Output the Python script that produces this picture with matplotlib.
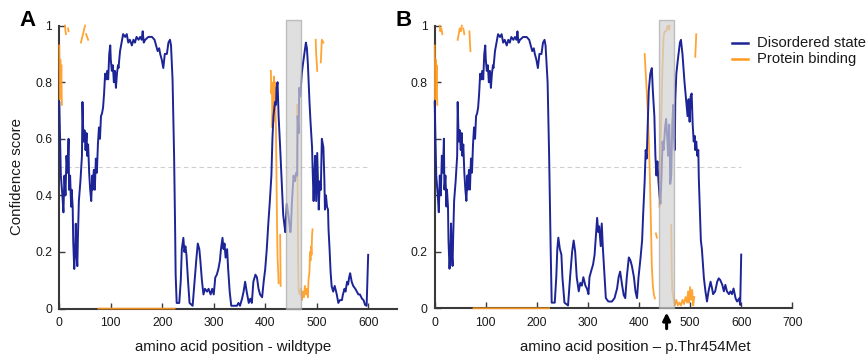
import numpy as np
import matplotlib
matplotlib.use("Agg")
import matplotlib.pyplot as plt
from matplotlib.patches import Rectangle
from matplotlib.lines import Line2D

plt.rcParams['font.family'] = ['Liberation Sans', 'DejaVu Sans']

nan = np.nan

# ---- Disordered state: shared N-terminal part (identical in both panels) ----
head_pos = [0, 3, 6, 8, 10, 12, 14, 16, 18, 19,
            21, 23, 24, 26, 27, 29, 31, 32, 33, 35,
            36, 38, 41, 44, 45, 47, 49, 51, 53, 54,
            56, 58, 60, 62, 64, 65, 67, 69, 71, 73,
            75, 77, 79, 81, 83, 85, 87, 89, 91, 93,
            95, 97, 99, 100, 102, 104, 106, 108, 110, 112,
            114, 115, 118, 121, 124, 128, 131, 134, 137, 141,
            144, 147, 150, 154, 157, 160, 162, 164, 167, 173,
            180, 185, 188, 191, 194, 196, 199, 202, 205, 209,
            212, 215, 217]
head_dis = [0.73, 0.47, 0.40, 0.34, 0.47, 0.40, 0.54, 0.48, 0.60, 0.42,
            0.47, 0.36, 0.42, 0.36, 0.24, 0.14, 0.21, 0.30, 0.21, 0.15,
            0.24, 0.38, 0.45, 0.54, 0.73, 0.59, 0.63, 0.56, 0.62, 0.54,
            0.58, 0.48, 0.42, 0.38, 0.47, 0.42, 0.49, 0.42, 0.53, 0.48,
            0.58, 0.64, 0.60, 0.68, 0.69, 0.71, 0.76, 0.83, 0.81, 0.84,
            0.81, 0.90, 0.93, 0.88, 0.84, 0.86, 0.80, 0.84, 0.78, 0.83,
            0.86, 0.85, 0.91, 0.94, 0.97, 0.96, 0.97, 0.94, 0.95, 0.93,
            0.95, 0.94, 0.96, 0.95, 0.96, 0.95, 0.98, 0.94, 0.95, 0.96,
            0.96, 0.95, 0.93, 0.91, 0.92, 0.90, 0.88, 0.85, 0.90, 0.90,
            0.94, 0.95, 0.93]

# ---- Disordered state, wildtype (A), rest of sequence ----
wt_pos = [220, 223, 225, 226, 228, 233, 236, 238, 241, 243,
          245, 247, 250, 253, 259, 263, 266, 269, 272, 274,
          277, 280, 283, 287, 290, 292, 294, 297, 300, 303,
          306, 309, 312, 314, 317, 319, 321, 323, 326, 328,
          331, 334, 338, 345, 348, 351, 355, 358, 361, 364,
          368, 371, 374, 377, 381, 384, 387, 390, 394, 397,
          400, 403, 406, 409, 412, 414, 416, 419, 421, 422,
          424, 426, 429, 432, 435, 437, 439, 440, 442, 445,
          447, 449, 450, 452, 455, 458, 460, 462, 463, 465,
          466, 468, 471, 473, 476, 479, 481, 483, 486, 488,
          491, 492, 494, 495, 497, 499, 501, 504, 506, 508,
          510, 513, 515, 516, 518, 520, 522, 523, 525, 527,
          529, 532, 535, 539, 542, 545, 549, 551, 554, 556,
          559, 561, 563, 565, 568, 571, 575, 578, 581, 584,
          588, 591, 594, 597, 600]
wt_dis = [0.81, 0.54, 0.28, 0.12, 0.02, 0.02, 0.10, 0.21, 0.25, 0.20,
          0.22, 0.19, 0.10, 0.02, 0.01, 0.10, 0.17, 0.23, 0.21, 0.17,
          0.10, 0.05, 0.07, 0.06, 0.07, 0.06, 0.05, 0.07, 0.05, 0.11,
          0.12, 0.14, 0.17, 0.21, 0.25, 0.21, 0.23, 0.18, 0.21, 0.14,
          0.06, 0.01, 0.01, 0.01, 0.02, 0.01, 0.035, 0.06, 0.095, 0.06,
          0.02, 0.035, 0.02, 0.095, 0.12, 0.11, 0.07, 0.05, 0.04, 0.095,
          0.14, 0.21, 0.30, 0.38, 0.47, 0.60, 0.68, 0.73, 0.72, 0.78,
          0.80, 0.68, 0.57, 0.45, 0.33, 0.30, 0.27, 0.31, 0.37, 0.33,
          0.30, 0.27, 0.29, 0.38, 0.47, 0.45, 0.48, 0.47, 0.68, 0.62,
          0.78, 0.75, 0.83, 0.86, 0.90, 0.94, 0.92, 0.86, 0.73, 0.66,
          0.57, 0.50, 0.38, 0.45, 0.54, 0.38, 0.55, 0.35, 0.45, 0.42,
          0.60, 0.57, 0.45, 0.35, 0.40, 0.36, 0.35, 0.28, 0.21, 0.13,
          0.08, 0.06, 0.08, 0.05, 0.02, 0.03, 0.03, 0.05, 0.07, 0.06,
          0.095, 0.085, 0.11, 0.125, 0.095, 0.08, 0.07, 0.06, 0.05, 0.05,
          0.035, 0.03, 0.013, 0.01, 0.19]

# ---- Disordered state, p.Thr454Met (B), rest of sequence ----
mut_pos = [221, 224, 227, 229, 235, 238, 240, 242, 245, 248,
           250, 254, 261, 265, 269, 272, 275, 278, 282, 285,
           288, 291, 295, 298, 301, 303, 306, 310, 313, 316,
           318, 320, 322, 325, 327, 329, 332, 335, 340, 347,
           352, 357, 360, 363, 367, 370, 373, 376, 380, 383,
           386, 390, 393, 396, 399, 403, 406, 408, 411, 413,
           415, 417, 419, 422, 425, 427, 430, 432, 434, 436,
           438, 440, 442, 444, 446, 448, 451, 453, 455, 457,
           459, 460, 461, 463, 465, 467, 468, 470, 471, 473,
           476, 480, 482, 485, 489, 492, 495, 497, 499, 501,
           503, 505, 507, 509, 510, 512, 514, 516, 517, 519,
           521, 523, 527, 530, 533, 536, 540, 543, 545, 549,
           553, 556, 559, 563, 566, 569, 572, 576, 579, 582,
           585, 589, 592, 596, 598, 600]
mut_dis = [0.80, 0.54, 0.21, 0.02, 0.02, 0.11, 0.21, 0.25, 0.21, 0.19,
           0.11, 0.02, 0.01, 0.11, 0.20, 0.24, 0.20, 0.11, 0.06, 0.09,
           0.08, 0.11, 0.08, 0.07, 0.05, 0.11, 0.13, 0.155, 0.19, 0.27,
           0.32, 0.27, 0.29, 0.22, 0.30, 0.22, 0.13, 0.036, 0.024, 0.024,
           0.036, 0.07, 0.11, 0.13, 0.08, 0.047, 0.036, 0.11, 0.18, 0.17,
           0.15, 0.11, 0.06, 0.036, 0.11, 0.18, 0.24, 0.33, 0.45, 0.56,
           0.53, 0.65, 0.77, 0.83, 0.85, 0.77, 0.68, 0.54, 0.47, 0.52,
           0.45, 0.40, 0.37, 0.47, 0.59, 0.56, 0.64, 0.67, 0.61, 0.54,
           0.65, 0.59, 0.44, 0.47, 0.65, 0.72, 0.62, 0.56, 0.74, 0.83,
           0.88, 0.94, 0.95, 0.90, 0.80, 0.74, 0.68, 0.74, 0.66, 0.75,
           0.76, 0.65, 0.59, 0.61, 0.56, 0.59, 0.54, 0.56, 0.46, 0.35,
           0.24, 0.21, 0.106, 0.06, 0.024, 0.06, 0.094, 0.07, 0.05, 0.06,
           0.094, 0.106, 0.10, 0.083, 0.06, 0.083, 0.06, 0.05, 0.06, 0.05,
           0.07, 0.035, 0.024, 0.035, 0.012, 0.19]

# ---- Protein binding (gaps = NaN) ----
wt_bind_pos = [0, 1, 2, 3, 4, 5, nan,
               11, 12, 13, nan, 17, 18, nan,
               42, 46, 50, nan, 52, 54, 56, nan,
               76, 224, nan,
               411, 412, 413, 414, 415, 416, 417, 418, 419, 420, 421, 422, 423, 424, 425, 426, nan, 429, 430, nan,
               462, 463, 464, 465, 467, 469, 471, 473, 475, 477, 479, 481, 483, 484, 486, 487, 488, 489, 490, 491, 492, nan,
               498, 499, 501, nan, 508, 510, 513]
wt_bind = [0.93, 0.74, 0.88, 0.78, 0.86, 0.72, nan,
           1.0, 0.98, 0.97, nan, 0.99, 0.98, nan,
           0.94, 0.97, 1.0, nan, 0.97, 0.96, 0.95, nan,
           0, 0, nan,
           0.84, 0.76, 0.80, 0.64, 0.70, 0.66, 0.82, 0.75, 0.80, 0.70, 0.62, 0.45, 0.29, 0.18, 0.14, 0.09, nan, 0.26, 0.08, nan,
           0.72, 0.40, 0.15, 0.06, 0.05, 0.07, 0.03, 0.06, 0.04, 0.08, 0.05, 0.07, 0.04, 0.10, 0.13, 0.20, 0.17, 0.22, 0.19, 0.26, 0.28, nan,
           0.95, 0.90, 0.84, nan, 0.87, 0.95, 0.94]

mut_bind_pos = [0, 1, 2, 3, 4, 5, nan,
                10, 11, 13, 15, nan,
                45, 47, 49, 51, 53, nan, 56, 58, nan,
                68, 69, 70, nan,
                76, 224, nan,
                411, 414, 417, 419, 421, 423, 425, 427, 429, 431, nan, 433, 435, nan,
                440, 442, 444, 446, 448, 450, 453, 456, 459, 460, nan,
                463, 464, 465, 468, 470, 473, 476, 479, 482, 485, 488, 491, 494, 496, 498, 500, 502, 504, 506, 508, nan,
                510, 511, 512]
mut_bind = [0.93, 0.74, 0.88, 0.78, 0.86, 0.72, nan,
            1.0, 0.98, 0.99, 0.97, nan,
            0.95, 0.97, 0.99, 0.98, 1.0, nan, 0.99, 0.97, nan,
            0.98, 0.94, 0.91, nan,
            0, 0, nan,
            0.90, 0.80, 0.70, 0.60, 0.48, 0.32, 0.15, 0.08, 0.05, 0.035, nan, 0.265, 0.25, nan,
            0.36, 0.56, 0.71, 0.855, 0.96, 0.98, 0.98, 1.0, 0.985, 1.0, nan,
            0.295, 0.15, 0.065, 0.03, 0.01, 0.03, 0.01, 0.02, 0.01, 0.03, 0.015, 0.04, 0.02, 0.06, 0.02, 0.075, 0.03, 0.065, 0.01, 0.04, nan,
            0.89, 0.93, 0.97]

region_start, region_end = 440, 469     # highlighted region
mutation_pos = 454
threshold = 0.5
xticks_a = [0, 100, 200, 300, 400, 500, 600]
xticks_b = [0, 100, 200, 300, 400, 500, 600, 700]
yticks = [0, 0.2, 0.4, 0.6, 0.8, 1]
ylabels_a = ['0', '0.2', '0.4', '0.6', '0.8', '1']
ylabels_b = ['0', '0.2', '', '', '0.8', '1']

BLUE = '#1c2496'
ORANGE = '#ff9a1f'
SPINE = '#3a3a3a'
TXT = '#1a1a1a'

W, H = 867, 358
fig = plt.figure(figsize=(W / 100, H / 100), dpi=100)


def style(ax, xmax, xticks, ylabels):
    ax.set_xlim(0, xmax)
    ax.set_ylim(0, 1)
    for s in ('top', 'right'):
        ax.spines[s].set_visible(False)
    for s in ('left', 'bottom'):
        ax.spines[s].set_color(SPINE)
        ax.spines[s].set_linewidth(1.5)
        ax.spines[s].set_zorder(2.5)
    ax.set_xticks(xticks)
    ax.set_xticklabels([str(t) for t in xticks])
    ax.set_yticks(yticks)
    ax.set_yticklabels(ylabels)
    ax.tick_params(axis='both', direction='in', length=4, width=1, color=SPINE,
                   labelsize=8.7, labelcolor=TXT)
    ax.tick_params(axis='y', pad=5)
    ax.tick_params(axis='x', pad=6)
    ax.set_facecolor('none')


def draw(ax, dis_pos, dis, bind_pos, bind):
    ax.plot([0, 600], [threshold, threshold], color='#cfcfcf', lw=0.8,
            ls=(0, (4, 3)), zorder=1)
    ax.plot(bind_pos, bind, color=ORANGE, lw=1.3, zorder=3, clip_on=False,
            alpha=0.9)
    ax.plot(dis_pos, dis, color=BLUE, lw=1.4, zorder=3.2, clip_on=False)
    ax.add_patch(Rectangle((region_start, 0), region_end - region_start, 1.02,
                           facecolor='#d2d2d2', alpha=0.7, edgecolor='#a8a8a8',
                           lw=1.0, zorder=4, clip_on=False))


axA = fig.add_axes([59.3 / W, 1 - 308.6 / H, (397 - 59.3) / W, 283 / H])
axB = fig.add_axes([434.7 / W, 1 - 308.3 / H, (792.3 - 434.7) / W, 282.6 / H])

draw(axA, head_pos + wt_pos, head_dis + wt_dis, wt_bind_pos, wt_bind)
draw(axB, head_pos + mut_pos, head_dis + mut_dis, mut_bind_pos, mut_bind)
style(axA, 656, xticks_a, ylabels_a)
style(axB, 700, xticks_b, ylabels_b)

axB.annotate('', xy=(mutation_pos, -0.015), xytext=(mutation_pos, -0.072),
             arrowprops=dict(arrowstyle='-|>', color='black', lw=2.2,
                             mutation_scale=11, shrinkA=0, shrinkB=0),
             annotation_clip=False)

fig.text(233 / W, 1 - 347.5 / H, 'amino acid position - wildtype', ha='center',
         va='center', fontsize=10.8, color=TXT)
fig.text(635.8 / W, 1 - 347.5 / H, 'amino acid position \u2013 p.Thr454Met',
         ha='center', va='center', fontsize=10.8, color=TXT)
fig.text(17 / W, 1 - 177 / H, 'Confidence score', rotation=90, ha='center',
         va='center', fontsize=10.8, color=TXT)

fig.text(27.5 / W, 1 - 20 / H, 'A', ha='center', va='center', fontsize=16,
         fontweight='bold', color='black')
fig.text(403.5 / W, 1 - 20 / H, 'B', ha='center', va='center', fontsize=16,
         fontweight='bold', color='black')

# legend
for yy, col, lab in ((43.3, BLUE, 'Disordered state'), (59.3, ORANGE, 'Protein binding')):
    fig.add_artist(Line2D([731.7 / W, 748.3 / W], [1 - yy / H, 1 - yy / H],
                          color=col, lw=1.8, transform=fig.transFigure))
    fig.text(757 / W, 1 - yy / H, lab, ha='left', va='center', fontsize=10.6,
             color=TXT)

fig.savefig('out.png', dpi=100, facecolor='white')
